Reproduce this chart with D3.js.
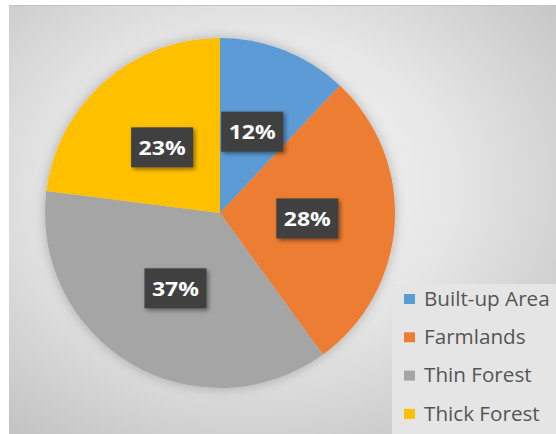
<!DOCTYPE html>
<html>
<head>
<meta charset="utf-8">
<script src="https://cdn.jsdelivr.net/npm/d3@7"></script>
<style>
  html, body { margin: 0; padding: 0; background: #fff; }
  svg { display: block; font-family: "Open Sans", "DejaVu Sans", sans-serif; }
</style>
</head>
<body>
<svg id="chart" width="556" height="434"></svg>
<script>
// ---- data ----
const categories = ['Built-up Area', 'Farmlands', 'Thin Forest', 'Thick Forest'];
const shares = [12, 28, 37, 23];
const colors = ['#5b9bd5', '#ed7d31', '#a5a5a5', '#ffc000'];

const W = 556, H = 434;
const cx = 220, cy = 213, R = 175;

const svg = d3.select('#chart');
const defs = svg.append('defs');

// radial background like the office chart style
const bg = defs.append('radialGradient').attr('id', 'bg')
  .attr('cx', '45%').attr('cy', '42%').attr('r', '72%');
bg.append('stop').attr('offset', '0%').attr('stop-color', '#f8f8f8');
bg.append('stop').attr('offset', '50%').attr('stop-color', '#e6e6e6');
bg.append('stop').attr('offset', '100%').attr('stop-color', '#c4c4c4');

const shadow = defs.append('filter').attr('id', 'shadow')
  .attr('x', '-30%').attr('y', '-30%').attr('width', '160%').attr('height', '160%');
shadow.append('feDropShadow').attr('dx', 2).attr('dy', 2).attr('stdDeviation', 2)
  .attr('flood-color', '#000').attr('flood-opacity', 0.45);

const pieShadow = defs.append('filter').attr('id', 'pieShadow')
  .attr('x', '-20%').attr('y', '-20%').attr('width', '140%').attr('height', '140%');
pieShadow.append('feDropShadow').attr('dx', 0).attr('dy', 0).attr('stdDeviation', 6)
  .attr('flood-color', '#000').attr('flood-opacity', 0.25);

svg.append('rect').attr('x', 9).attr('y', 5).attr('width', W - 9).attr('height', H - 5)
  .attr('fill', 'url(#bg)');
svg.append('line').attr('x1', 9).attr('x2', W).attr('y1', 5.5).attr('y2', 5.5)
  .attr('stroke', '#c4c4c4');

// ---- pie ----
const pie = d3.pie().sort(null).value(d => d)(shares);
const arc = d3.arc().innerRadius(0).outerRadius(R);
const labelArc = d3.arc().innerRadius(R * 0.5).outerRadius(R * 0.5);

const g = svg.append('g').attr('transform', `translate(${cx},${cy})`);
g.append('g').attr('filter', 'url(#pieShadow)')
  .selectAll('path').data(pie).enter()
  .append('path')
  .attr('d', arc)
  .attr('fill', (d, i) => colors[i]);

// ---- data labels ----
const bw = 62, bh = 40;
const labels = g.selectAll('.lbl').data(pie).enter()
  .append('g').attr('class', 'lbl')
  .attr('transform', d => {
    const [x, y] = labelArc.centroid(d);
    return `translate(${x},${y})`;
  });
labels.append('rect')
  .attr('x', -bw / 2).attr('y', -bh / 2).attr('width', bw).attr('height', bh)
  .attr('fill', '#3f3f3f').attr('filter', 'url(#shadow)');
labels.append('text')
  .attr('text-anchor', 'middle').attr('dy', '0.36em')
  .attr('transform', 'scale(1.15,1)')
  .attr('fill', '#fff').attr('font-weight', 'bold').attr('font-size', 20)
  .text(d => d.data + '%');

// ---- legend ----
svg.append('rect').attr('x', 392).attr('y', 284).attr('width', W - 392).attr('height', H - 284)
  .attr('fill', '#e5e5e5');
const leg = svg.append('g').selectAll('g').data(categories).enter()
  .append('g').attr('transform', (d, i) => `translate(404,${299 + i * 38.3})`);
leg.append('rect').attr('x', 0).attr('y', -5).attr('width', 11).attr('height', 10)
  .attr('fill', (d, i) => colors[i]);
leg.append('text').attr('x', 0).attr('dy', '0.35em')
  .attr('transform', 'translate(20,0) scale(1.06,1)')
  .attr('font-size', 19.5).attr('fill', '#555')
  .text(d => d);
</script>
</body>
</html>
